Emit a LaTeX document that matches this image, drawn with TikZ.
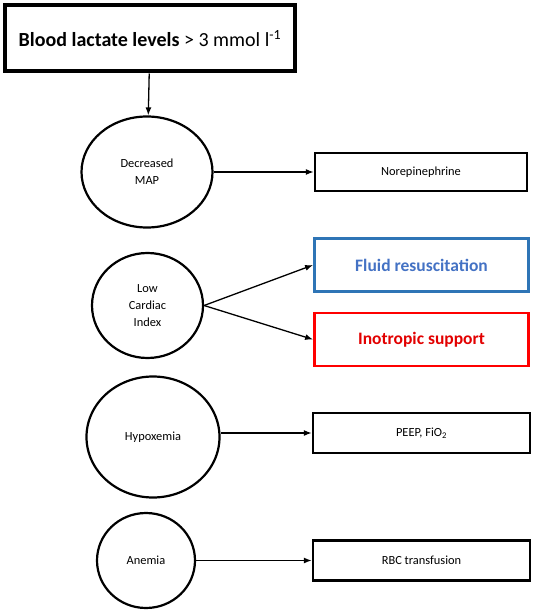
\documentclass[tikz,border=0pt]{standalone}
\usepackage{fontspec}
\setmainfont{Carlito}
\usetikzlibrary{arrows.meta,shapes.geometric}
\definecolor{boxblue}{RGB}{46,117,182}
\definecolor{textblue}{RGB}{68,114,196}
\definecolor{boxred}{RGB}{255,0,0}
\definecolor{textred}{RGB}{226,0,0}
\tikzset{
	cause/.style={draw, ellipse, line width=2.2pt, inner sep=0pt, align=center, font=\fontsize{12.4}{17}\selectfont},
	therapy/.style={draw, rectangle, line width=2.4pt, minimum width=214pt, minimum height=38pt, inner sep=0pt, font=\fontsize{12.4}{15}\selectfont},
	link/.style={line width=1.3pt, -{Latex[length=8pt,width=6pt]}}
}
\begin{document}
\begin{tikzpicture}[x=1pt, y=-1pt]
	%%%%% START %%%%%
	
	\useasboundingbox (0, 0) rectangle (536, 612);
	
	\node[draw, rectangle, line width=4pt, minimum width=290pt, minimum height=66pt, inner sep=0pt, font=\fontsize{20}{24}\selectfont] (lactate) at (150, 38.5) {\textbf{Blood lactate levels} > 3 mmol l\textsuperscript{-1}};
	
	\node[cause, minimum width=131pt, minimum height=111pt] (map) at (147, 172) {Decreased\\MAP};
	\node[cause, minimum width=111pt, minimum height=105pt] (ci) at (147.5, 305.5) {Low\\Cardiac\\Index};
	\node[cause, minimum width=133pt, minimum height=121pt] (hypox) at (153, 437) {Hypoxemia};
	\node[cause, minimum width=98pt, minimum height=95pt] (anemia) at (146, 560.5) {Anemia};
	
	\node[therapy, minimum width=212pt, minimum height=38pt] (norepi) at (421, 172) {Norepinephrine};
	\node[therapy, draw=boxblue, line width=2.8pt, minimum height=53pt, font=\fontsize{17.5}{20}\selectfont\bfseries, text=textblue] (fluid) at (421.5, 265) {Fluid resuscitation};
	\node[therapy, draw=boxred, line width=2.8pt, minimum height=53pt, font=\fontsize{17.5}{20}\selectfont\bfseries, text=textred] (inotrop) at (421.5, 339.5) {Inotropic support};
	\node[therapy, minimum width=217pt, minimum height=40pt] (peep) at (421.5, 433) {PEEP, FiO\textsubscript{2}};
	\node[therapy, minimum width=217pt, minimum height=40pt] (rbc) at (421.5, 560.5) {RBC transfusion};
	
	\draw[link] (lactate) -- (map);
	\draw[link] (map) -- (norepi);
	\draw[link] (ci.east) -- (fluid.west);
	\draw[link] (ci.east) -- (inotrop.west);
	\draw[link] (hypox.east |- peep.west) -- (peep.west);
	\draw[link] (anemia.east |- rbc.west) -- (rbc.west);
	
	%%%%% END %%%%%
\end{tikzpicture}
\end{document}
